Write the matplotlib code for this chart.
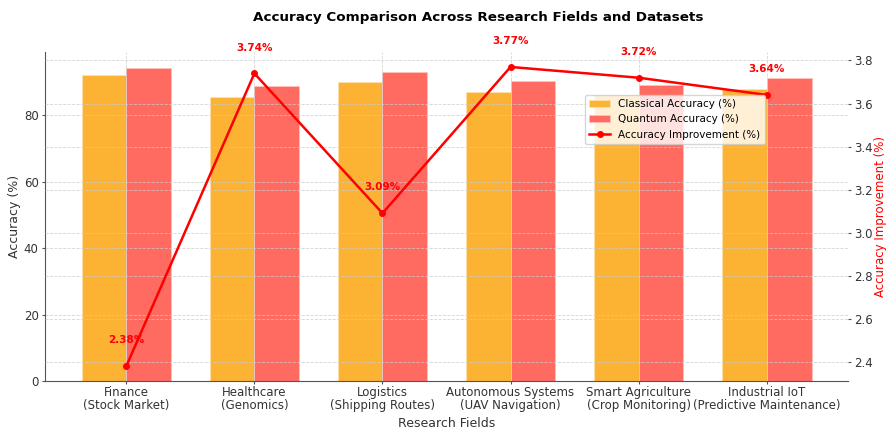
import matplotlib.pyplot as plt
import numpy as np

fields = ["Finance\n(Stock Market)", "Healthcare\n(Genomics)", "Logistics\n(Shipping Routes)",
          "Autonomous Systems\n(UAV Navigation)", "Smart Agriculture\n(Crop Monitoring)",
          "Industrial IoT\n(Predictive Maintenance)"]
classical = [92.2, 85.7, 90.2, 87.2, 86.1, 88.0]
quantum = [94.4, 88.9, 93.0, 90.5, 89.3, 91.2]
improvement = [2.38, 3.74, 3.09, 3.77, 3.72, 3.64]

x = np.arange(len(fields))
width = 0.35

fig = plt.figure(figsize=(8.86, 4.33), dpi=100)
ax = fig.add_axes([45 / 886, 1 - 381 / 433, 803 / 886, 329 / 433])

b1 = ax.bar(x - width / 2, classical, width, color="#FCB232", edgecolor="#FFE0B0", linewidth=0.6,
            label="Classical Accuracy (%)")
b2 = ax.bar(x + width / 2, quantum, width, color="#FF6B61", edgecolor="#FFC0B8", linewidth=0.6,
            label="Quantum Accuracy (%)")
ax.set_xticks(x)
ax.set_xticklabels(fields, fontsize=8.5, color="#333333", linespacing=1.05)
ax.set_ylabel("Accuracy (%)", fontsize=9, color="#333333", labelpad=2)
ax.set_xlabel("Research Fields", fontsize=9, color="#333333", labelpad=3)
ax.tick_params(axis="y", labelsize=8.5, labelcolor="#333333", color="#555555", length=2.5, pad=2)
ax.tick_params(axis="x", color="#555555", length=2, pad=1.5)
ax.grid(True, linestyle="--", linewidth=0.6, color="#cccccc", alpha=0.8)
for s in ["top", "right"]:
    ax.spines[s].set_visible(False)
for s in ["left", "bottom"]:
    ax.spines[s].set_color("#555555")

ax2 = ax.twinx()
l1, = ax2.plot(x, improvement, color="red", marker="o", markersize=4, linewidth=1.8,
               label="Accuracy Improvement (%)")
for xi, yi in zip(x, improvement):
    ax2.text(xi, yi + 0.12, f"{yi:.2f}%", color="red", fontsize=7.5, fontweight="bold",
             ha="center", va="center")
ax2.set_ylabel("Accuracy Improvement (%)", fontsize=8.5, color="red", labelpad=1)
ax2.tick_params(axis="y", labelsize=8.5, labelcolor="#333333", color="#555555", length=2.5, pad=2)
ax2.grid(True, axis="y", linestyle="--", linewidth=0.6, color="#cccccc", alpha=0.8)
for s in ax2.spines.values():
    s.set_visible(False)

ax2.legend([b1, b2, l1], [b1.get_label(), b2.get_label(), l1.get_label()],
           loc="upper left", bbox_to_anchor=(0.666, 0.885), fontsize=7.5)

fig.text(478 / 886, 1 - 17 / 433, "Accuracy Comparison Across Research Fields and Datasets",
         fontsize=9.7, fontweight="bold", ha="center", va="center")

fig.savefig("out.png", dpi=100)
